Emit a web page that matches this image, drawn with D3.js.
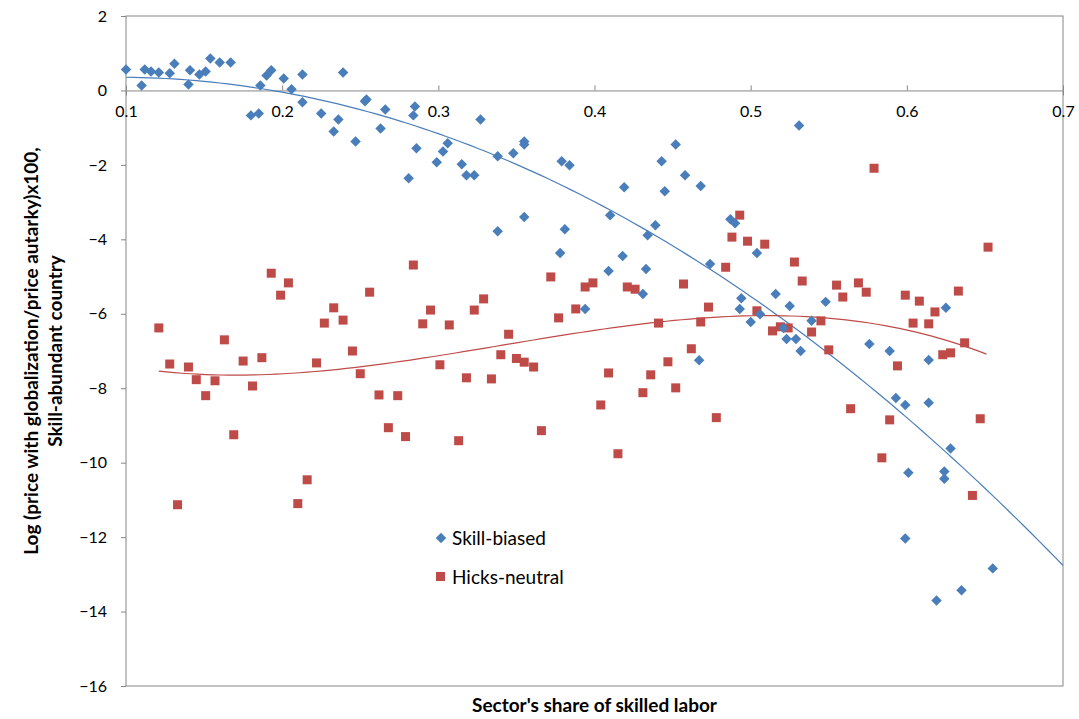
<!DOCTYPE html>
<html>
<head>
<meta charset="utf-8">
<script src="https://cdn.jsdelivr.net/npm/d3@7"></script>
<style>
  body { margin: 0; background: #fff; }
  text { font-family: Lato, "Open Sans", sans-serif; }
</style>
</head>
<body>
<svg id="chart" width="1079" height="719"></svg>
<script>
// Skill-biased points [share, log price ratio]
var skillBiased = [
  [0.100,0.56],[0.110,0.13],[0.112,0.56],[0.116,0.51],[0.121,0.48],[0.128,0.46],[0.131,0.72],
  [0.140,0.16],[0.141,0.54],[0.147,0.43],[0.151,0.51],[0.154,0.86],[0.160,0.75],[0.167,0.75],
  [0.180,-0.67],[0.185,-0.62],[0.186,0.13],[0.190,0.40],[0.193,0.54],[0.201,0.32],[0.206,0.03],
  [0.213,-0.32],[0.213,0.43],[0.225,-0.62],[0.233,-1.10],[0.236,-0.78],[0.239,0.48],[0.247,-1.37],
  [0.253,-0.29],[0.254,-0.24],[0.263,-1.02],[0.266,-0.51],[0.281,-2.36],[0.284,-0.67],[0.285,-0.43],
  [0.286,-1.55],[0.299,-1.93],[0.303,-1.64],[0.306,-1.42],[0.315,-1.98],[0.318,-2.28],[0.323,-2.28],
  [0.327,-0.78],[0.338,-1.77],[0.338,-3.78],[0.348,-1.69],[0.355,-1.37],[0.355,-1.45],[0.355,-3.40],
  [0.379,-1.90],[0.384,-2.01],[0.378,-4.37],[0.381,-3.73],[0.394,-5.87],[0.409,-4.85],[0.410,-3.35],
  [0.418,-4.45],[0.419,-2.60],[0.431,-5.47],[0.433,-4.80],[0.434,-3.89],[0.439,-3.62],[0.443,-1.90],
  [0.445,-2.71],[0.452,-1.45],[0.458,-2.28],[0.468,-2.57],[0.474,-4.66],[0.487,-3.46],[0.490,-3.57],
  [0.493,-5.87],[0.494,-5.58],[0.500,-6.22],[0.504,-4.37],[0.506,-6.01],[0.516,-5.47],[0.521,-6.38],
  [0.523,-6.68],[0.525,-5.79],[0.529,-6.68],[0.531,-0.94],[0.532,-7.00],[0.539,-6.19],[0.548,-5.68],
  [0.625,-5.84],[0.576,-6.81],[0.589,-7.00],[0.614,-7.24],[0.593,-8.26],[0.599,-8.45],[0.614,-8.39],
  [0.628,-9.62],[0.601,-10.27],[0.624,-10.24],[0.624,-10.43],[0.599,-12.04],[0.655,-12.84],
  [0.635,-13.43],[0.619,-13.70],[0.467,-7.25]
];

// Hicks-neutral points
var hicksNeutral = [
  [0.121,-6.38],[0.128,-7.35],[0.140,-7.43],[0.145,-7.77],[0.157,-7.80],[0.151,-8.20],[0.133,-11.13],
  [0.163,-6.70],[0.169,-9.25],[0.175,-7.27],[0.187,-7.18],[0.181,-7.94],[0.193,-4.91],[0.204,-5.17],
  [0.199,-5.50],[0.216,-10.46],[0.210,-11.10],[0.222,-7.32],[0.227,-6.25],[0.233,-5.84],[0.239,-6.17],
  [0.245,-7.00],[0.250,-7.61],[0.256,-5.42],[0.262,-8.18],[0.274,-8.20],[0.268,-9.06],[0.279,-9.30],
  [0.284,-4.69],[0.290,-6.27],[0.295,-5.90],[0.301,-7.37],[0.307,-6.30],[0.313,-9.41],[0.318,-7.72],
  [0.323,-5.90],[0.329,-5.60],[0.334,-7.75],[0.340,-7.10],[0.345,-6.55],[0.350,-7.20],[0.355,-7.30],
  [0.361,-7.43],[0.366,-9.14],[0.372,-5.01],[0.377,-6.11],[0.388,-5.87],[0.394,-5.28],[0.399,-5.17],
  [0.404,-8.45],[0.409,-7.59],[0.415,-9.76],[0.421,-5.28],[0.426,-5.34],[0.431,-8.12],[0.436,-7.64],
  [0.441,-6.25],[0.447,-7.29],[0.452,-7.99],[0.457,-5.20],[0.462,-6.94],[0.468,-6.22],[0.473,-5.82],
  [0.478,-8.79],[0.484,-4.75],[0.488,-3.94],[0.493,-3.35],[0.498,-4.05],[0.504,-5.92],[0.509,-4.13],
  [0.514,-6.46],[0.519,-6.35],[0.524,-6.38],[0.528,-4.61],[0.533,-5.12],[0.539,-6.49],[0.545,-6.19],
  [0.555,-5.23],[0.569,-5.17],[0.559,-5.55],[0.574,-5.42],[0.599,-5.50],[0.608,-5.66],[0.618,-5.95],
  [0.633,-5.39],[0.652,-4.21],[0.604,-6.25],[0.614,-6.27],[0.637,-6.78],[0.550,-6.97],[0.623,-7.10],
  [0.628,-7.05],[0.594,-7.40],[0.564,-8.55],[0.589,-8.85],[0.647,-8.82],[0.584,-9.87],[0.642,-10.88],
  [0.579,-2.09]
];

var xTicks = [0.1, 0.2, 0.3, 0.4, 0.5, 0.6, 0.7];
var yTicks = [2, 0, -2, -4, -6, -8, -10, -12, -14, -16];

var blue = "#4a7ebb", red = "#be4b48";

// least-squares polynomial fit (Excel-style trendline)
function polyfit(pts, deg) {
  var n = deg + 1, A = [], b = [];
  for (var i = 0; i < n; i++) { A.push(new Array(n).fill(0)); b.push(0); }
  pts.forEach(function (p) {
    for (var i = 0; i < n; i++) {
      for (var j = 0; j < n; j++) A[i][j] += Math.pow(p[0], i + j);
      b[i] += Math.pow(p[0], i) * p[1];
    }
  });
  for (var c = 0; c < n; c++) {
    for (var r = c + 1; r < n; r++) {
      var f = A[r][c] / A[c][c];
      for (var k = c; k < n; k++) A[r][k] -= f * A[c][k];
      b[r] -= f * b[c];
    }
  }
  var coef = new Array(n).fill(0);
  for (var r = n - 1; r >= 0; r--) {
    var s = b[r];
    for (var k = r + 1; k < n; k++) s -= A[r][k] * coef[k];
    coef[r] = s / A[r][r];
  }
  return function (x) { return coef.reduce(function (a, c, i) { return a + c * Math.pow(x, i); }, 0); };
}

var svg = d3.select("#chart");
var L = 126, R = 1063, T = 16, B = 686;
var x = d3.scaleLinear().domain([0.1, 0.7]).range([L, R]);
var y = d3.scaleLinear().domain([-16, 2]).range([B, T]);

svg.append("rect").attr("x", L).attr("y", T).attr("width", R - L).attr("height", B - T)
  .attr("fill", "none").attr("stroke", "#868686");

svg.append("g").attr("transform", "translate(" + L + ",0)")
  .call(d3.axisLeft(y).tickValues(yTicks).tickSize(5).tickPadding(14))
  .call(function (g) {
    g.select(".domain").remove();
    g.selectAll("line").attr("stroke", "#868686");
    g.selectAll("text").attr("font-size", 16).attr("fill", "#000");
  });

svg.append("g").attr("transform", "translate(0," + y(0) + ")")
  .call(d3.axisBottom(x).tickValues(xTicks).tickSize(5).tickPadding(22).tickFormat(d3.format("")))
  .call(function (g) {
    g.select(".domain").attr("stroke", "#868686");
    g.selectAll("line").attr("stroke", "#868686").attr("y1", -5).attr("y2", 0);
    g.selectAll("text").attr("font-size", 16).attr("fill", "#000").attr("dy", "0");
  });

// trendlines
var blueFit = polyfit(skillBiased, 2);
var redFit = polyfit(hicksNeutral, 3);
var line = d3.line().x(function (d) { return x(d[0]); }).y(function (d) { return y(d[1]); });
var bx = d3.range(0.1, 0.7001, 0.005).map(function (v) { return [v, blueFit(v)]; });
var rExt = d3.extent(hicksNeutral, function (d) { return d[0]; });
var rx = d3.range(rExt[0], rExt[1] + 1e-9, 0.005).map(function (v) { return [v, redFit(v)]; });

svg.append("path").attr("d", line(bx)).attr("fill", "none").attr("stroke", blue).attr("stroke-width", 1.2);
svg.append("path").attr("d", line(rx)).attr("fill", "none").attr("stroke", red).attr("stroke-width", 1.2);

svg.append("g").selectAll("rect").data(hicksNeutral).join("rect")
  .attr("x", function (d) { return x(d[0]) - 4.5; }).attr("y", function (d) { return y(d[1]) - 4.5; })
  .attr("width", 9).attr("height", 9).attr("fill", red);

var diamond = d3.symbol().type(d3.symbolDiamond2).size(70);
svg.append("g").selectAll("path").data(skillBiased).join("path")
  .attr("d", diamond)
  .attr("transform", function (d) { return "translate(" + x(d[0]) + "," + y(d[1]) + ")"; })
  .attr("fill", blue);

// legend
svg.append("path").attr("d", diamond).attr("fill", blue).attr("transform", "translate(441,538)");
svg.append("text").attr("x", 452).attr("y", 545).attr("font-size", 19).text("Skill-biased");
svg.append("rect").attr("x", 436).attr("y", 572).attr("width", 9).attr("height", 9).attr("fill", red);
svg.append("text").attr("x", 452).attr("y", 584).attr("font-size", 19).text("Hicks-neutral");

// axis titles
svg.append("text").attr("x", (L + R) / 2).attr("y", 712).attr("text-anchor", "middle")
  .attr("font-size", 19).attr("font-weight", "bold").text("Sector's share of skilled labor");
var yt = svg.append("text").attr("transform", "translate(38,351) rotate(-90)").attr("text-anchor", "middle")
  .attr("font-size", 19).attr("font-weight", "bold");
yt.append("tspan").attr("x", 0).attr("dy", 0).text("Log (price with globalization/price autarky)x100,");
yt.append("tspan").attr("x", 0).attr("dy", 24).text("Skill-abundant country");
</script>
</body>
</html>
